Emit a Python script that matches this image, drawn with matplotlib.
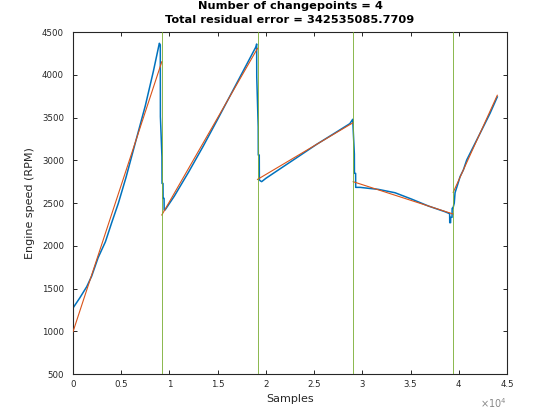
import matplotlib
matplotlib.use("Agg")
import matplotlib.pyplot as plt
import numpy as np
from matplotlib.ticker import FuncFormatter, MultipleLocator

# --- data ---
sample_idx = [0, 700, 1420, 1935, 2600, 3360, 4010, 4700, 5500, 6550, 7500, 8330, 8950,
              9050, 9060, 9220, 9230, 9330, 9340, 9440, 9450,
              9540, 10500, 12000, 13500, 15000, 16500, 18000, 18980, 19040,
              19050, 19200, 19210, 19310, 19320, 19450, 19560,
              20000, 21800, 23500, 25300, 27000, 28700, 28950,
              29000, 29170, 29180, 29300, 29310, 29760, 30620, 31630, 33390, 35120,
              36840, 38570, 38990, 39050, 39060, 39150, 39160, 39300, 39310, 39400,
              39420, 39530, 39610, 39950, 40130, 40470, 40820, 41510, 42380, 43240, 43930, 43990]
engine_rpm = [1272, 1390, 1521, 1645, 1860, 2047, 2270, 2497, 2802, 3242, 3640, 4040, 4368,
              4350, 3509, 3041, 2729, 2729, 2555, 2555, 2418,
              2418, 2580, 2865, 3165, 3480, 3800, 4120, 4330, 4360,
              3977, 3392, 3061, 3061, 2769, 2757, 2750,
              2789, 2925, 3053, 3189, 3308, 3428, 3470,
              3479, 3073, 2847, 2847, 2683, 2683, 2672, 2660, 2620, 2545,
              2465, 2398, 2378, 2378, 2270, 2270, 2333, 2333, 2438, 2438,
              2450, 2500, 2620, 2740, 2808, 2886, 3003, 3159, 3354, 3549, 3725, 3740]

changepoints = [9207, 19130, 29053, 39420]
seg_start = [0, 9207, 19130, 29053, 39420]
seg_end = [9207, 19130, 29053, 39420, 43990]
fit_start = [995, 2360, 2776, 2749, 2625]
fit_end = [4153, 4309, 3440, 2371, 3760]

n_changepoints = 4
residual_error = "342535085.7709"

# --- plot ---
fig = plt.figure(figsize=(5.6, 4.2), dpi=100)
ax = fig.add_axes([0.1304, 0.1095, 0.7750, 0.8143])

blue = "#0072BD"
red = "#D95319"
green = "#77AC30"
axcol = "#262626"

ax.plot(sample_idx, engine_rpm, color=blue, lw=1.1, zorder=2)

fx, fy = [], []
for s0, s1, v0, v1 in zip(seg_start, seg_end, fit_start, fit_end):
    fx += [s0, s1, np.nan]
    fy += [v0, v1, np.nan]
ax.plot(fx, fy, color=red, lw=0.8, zorder=3)

for cp in changepoints:
    ax.axvline(cp, color=green, lw=0.6, zorder=4)

ax.set_xlim(0, 45000)
ax.set_ylim(500, 4500)
ax.xaxis.set_major_locator(MultipleLocator(5000))
ax.yaxis.set_major_locator(MultipleLocator(500))
ax.xaxis.set_major_formatter(FuncFormatter(lambda v, p: f"{v/1e4:g}"))

ax.tick_params(direction="in", length=3, width=0.7, colors=axcol, labelsize=6.2,
               top=True, right=True)
ax.tick_params(axis="y", pad=6.5)
ax.tick_params(axis="x", pad=4)
for sp in ax.spines.values():
    sp.set_color(axcol)
    sp.set_linewidth(0.8)

ax.set_xlabel("Samples", fontsize=8, color=axcol, labelpad=4)
ax.set_ylabel("Engine speed (RPM)", fontsize=8, color=axcol, labelpad=5)
ax.set_title(f"Number of changepoints = {n_changepoints}\nTotal residual error = {residual_error}",
             fontsize=8.2, fontweight="bold", pad=6.5, linespacing=1.5)

ax.text(1.0, -0.085, r"$\times10^{4}$", transform=ax.transAxes, ha="right", va="center",
        fontsize=7, color="#888888")

fig.savefig("out.png", dpi=100)
